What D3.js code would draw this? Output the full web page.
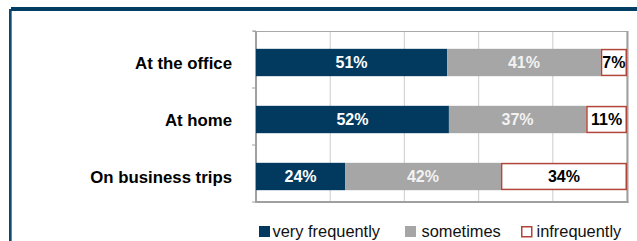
<!DOCTYPE html>
<html>
<head>
<meta charset="utf-8">
<script src="https://cdn.jsdelivr.net/npm/d3@7"></script>
<style>
  body { margin: 0; background: #fff; }
  svg { display: block; font-family: "Liberation Sans", Arial, sans-serif; }
</style>
</head>
<body>
<svg id="chart" width="637" height="241"></svg>
<script>
var categories = ["At the office", "At home", "On business trips"];
var seriesNames = ["very frequently", "sometimes", "infrequently"];
var veryFrequently = [51, 52, 24];
var sometimes = [41, 37, 42];
var infrequently = [7, 11, 34];
var ticks = [0, 20, 40, 60, 80, 100];

var colors = ["#023a5f", "#a6a6a6", "#ffffff"];
var labelColors = ["#ffffff", "#f2f2f2", "#000000"];

var svg = d3.select("#chart");

// outer decorative border
svg.append("rect").attr("x", 11).attr("y", 7).attr("width", 626).attr("height", 4).attr("fill", "#023e63");
svg.append("rect").attr("x", 9).attr("y", 9).attr("width", 2).attr("height", 232).attr("fill", "#0d4a72");
svg.append("rect").attr("x", 11).attr("y", 11).attr("width", 1).attr("height", 230).attr("fill", "#5f89a8");

var plotLeft = 256, plotRight = 627, plotTop = 31, plotBottom = 202;

var x = d3.scaleLinear().domain([0, 100]).range([plotLeft, plotRight]);
var y = d3.scaleBand().domain(categories).range([plotTop, plotBottom]).paddingInner(0.52).paddingOuter(0.26);

// rows normalised to 100% (stacked percent bars)
var rows = categories.map(function (c, i) {
    var vals = [veryFrequently[i], sometimes[i], infrequently[i]];
    var total = d3.sum(vals);
    return { cat: c, vals: vals, total: total };
});

// gridlines
svg.append("g").selectAll("line").data(ticks).enter().append("line")
    .attr("x1", function (d) { return x(d); })
    .attr("x2", function (d) { return x(d); })
    .attr("y1", plotTop).attr("y2", plotBottom)
    .attr("stroke", "#d4d4d4").attr("stroke-width", 1.2);

// frame
svg.append("line").attr("x1", plotLeft - 3).attr("x2", plotRight).attr("y1", plotTop + 0.5).attr("y2", plotTop + 0.5)
    .attr("stroke", "#a8a8a8").attr("stroke-width", 1);
svg.append("line").attr("x1", plotRight + 0.5).attr("x2", plotRight + 0.5).attr("y1", plotTop).attr("y2", plotBottom + 1)
    .attr("stroke", "#a0a0a0").attr("stroke-width", 2);
svg.append("line").attr("x1", plotLeft - 1).attr("x2", plotRight + 1.5).attr("y1", plotBottom).attr("y2", plotBottom)
    .attr("stroke", "#a0a0a0").attr("stroke-width", 2);
svg.append("line").attr("x1", plotLeft).attr("x2", plotLeft).attr("y1", plotTop).attr("y2", plotBottom)
    .attr("stroke", "#a0a0a0").attr("stroke-width", 2);

// category tick marks on the left axis
svg.append("g").selectAll("line").data(d3.range(categories.length + 1)).enter().append("line")
    .attr("x1", plotLeft - 4).attr("x2", plotLeft)
    .attr("y1", function (i) { return plotTop + i * y.step(); })
    .attr("y2", function (i) { return plotTop + i * y.step(); })
    .attr("stroke", "#a0a0a0").attr("stroke-width", 1);

// bars
var g = svg.selectAll(".row").data(rows).enter().append("g").attr("class", "row");

g.each(function (r) {
    var grp = d3.select(this);
    var acc = 0;
    r.vals.forEach(function (v, k) {
        var x0 = x(acc / r.total * 100);
        acc += v;
        var x1 = x(acc / r.total * 100);
        var by = y(r.cat) + 3;
        var bh = y.bandwidth();
        if (k === 2) {
            grp.append("rect")
                .attr("x", x0 + 0.75).attr("y", by + 0.75)
                .attr("width", x1 - x0 - 1.5).attr("height", bh - 1.5)
                .attr("fill", colors[k]).attr("stroke", "#b0463a").attr("stroke-width", 1.5);
        } else {
            grp.append("rect")
                .attr("x", x0).attr("y", by)
                .attr("width", x1 - x0).attr("height", bh)
                .attr("fill", colors[k]);
        }
        grp.append("text")
            .attr("x", (x0 + x1) / 2)
            .attr("y", by + bh / 2)
            .attr("dy", "0.36em")
            .attr("text-anchor", "middle")
            .style("font-size", "16px")
            .style("font-weight", "bold")
            .attr("fill", labelColors[k])
            .text(v + "%");
    });
});

// category labels
svg.append("g").selectAll("text").data(categories).enter().append("text")
    .attr("x", 232)
    .attr("y", function (d) { return y(d) + 3 + y.bandwidth() / 2; })
    .attr("dy", "0.36em")
    .attr("text-anchor", "end")
    .style("font-size", "16.8px")
    .style("font-weight", "bold")
    .attr("fill", "#000")
    .text(function (d) { return d; });

// legend
var legendX = [259, 405, 521];
var lg = svg.selectAll(".legend").data(seriesNames).enter().append("g").attr("class", "legend")
    .attr("transform", function (d, i) { return "translate(" + legendX[i] + ",226)"; });

lg.append("rect")
    .attr("x", function (d, i) { return i === 2 ? 0.75 : 0; })
    .attr("y", function (d, i) { return i === 2 ? 0.75 : 0; })
    .attr("width", function (d, i) { return i === 2 ? 10 : 11; })
    .attr("height", function (d, i) { return i === 2 ? 10 : 11; })
    .attr("fill", function (d, i) { return colors[i]; })
    .attr("stroke", function (d, i) { return i === 2 ? "#b0463a" : "none"; })
    .attr("stroke-width", 1.5);

lg.append("text")
    .attr("x", function (d, i) { return i === 2 ? 15.5 : (i === 0 ? 13.5 : 16.5); })
    .attr("y", 5.5)
    .attr("dy", "0.36em")
    .style("font-size", "16.4px")
    .attr("fill", "#111")
    .text(function (d) { return d; });
</script>
</body>
</html>
